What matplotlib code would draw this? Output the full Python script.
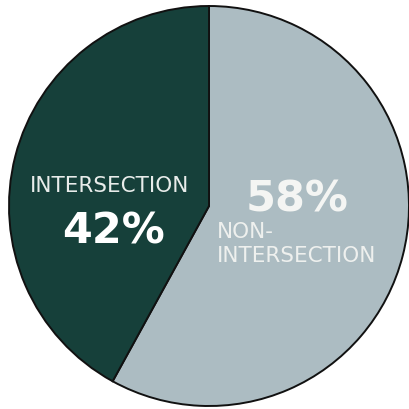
import matplotlib
matplotlib.use("Agg")
import matplotlib.pyplot as plt

labels = ["NON-\nINTERSECTION", "INTERSECTION"]
shares = [58, 42]
colors = ["#acbcc2", "#16403a"]

fig = plt.figure(figsize=(4.09, 4.09), dpi=100)
ax = fig.add_axes([0, 0, 1, 1])

ax.pie(shares, colors=colors, startangle=90, counterclock=False, radius=1.0,
       wedgeprops=dict(edgecolor="#111111", linewidth=1.4))

ax.set_xlim(-1.045, 1.0)
ax.set_ylim(-1.015, 1.03)
ax.set_aspect("equal")
ax.axis("off")

# dark slice labels
ax.text(-0.495, 0.10, labels[1], ha="center", va="center", color="#e8ecea",
        fontsize=15.5, family="DejaVu Sans")
ax.text(-0.475, -0.125, f"{shares[1]}%", ha="center", va="center", color="white",
        fontsize=31, family="DejaVu Sans", weight="bold")

# light slice labels
ax.text(0.44, 0.035, f"{shares[0]}%", ha="center", va="center", color="#f4f5f3",
        fontsize=31, family="DejaVu Sans", weight="bold")
ax.text(0.04, -0.19, labels[0], ha="left", va="center", color="#eef0ee",
        fontsize=15.5, family="DejaVu Sans", linespacing=1.2)

fig.savefig("out.png", dpi=100)
